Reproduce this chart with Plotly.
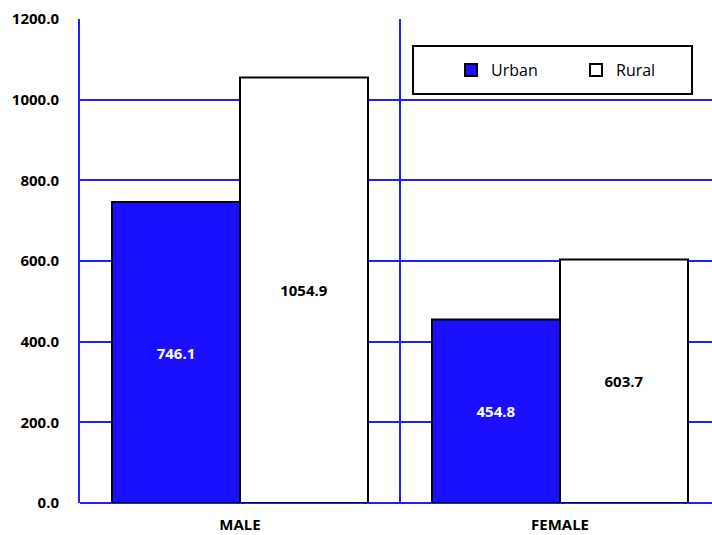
import plotly.graph_objects as go

categories = ["MALE", "FEMALE"]
urban = [746.1, 454.8]
rural = [1054.9, 603.7]
y_ticks = [0, 200, 400, 600, 800, 1000, 1200]

BLUE = "#1a10ff"
GRID = "#2020ff"
FONT = "Open Sans"

fig = go.Figure()
fig.add_trace(go.Bar(
    name="Urban", x=categories, y=urban,
    marker=dict(color=BLUE, line=dict(color="black", width=2)),
    texttemplate="%{y:.1f}", textposition="inside", insidetextanchor="middle",
    textfont=dict(family=FONT, size=15, color="white", weight="bold"),
    textangle=0,
))
fig.add_trace(go.Bar(
    name="Rural", x=categories, y=rural,
    marker=dict(color="white", line=dict(color="black", width=2)),
    texttemplate="%{y:.1f}", textposition="inside", insidetextanchor="middle",
    textfont=dict(family=FONT, size=15, color="black", weight="bold"),
    textangle=0,
))

L, T, B = 80, 19, 32
W, H = 712, 535
pw = W - L
ph = H - T - B

def px_x(p):
    return (p - L) / pw

def px_y(p):
    return (H - B - p) / ph

fig.add_shape(type="rect", xref="paper", yref="paper",
              x0=px_x(413), x1=px_x(692), y0=px_y(94), y1=px_y(46),
              line=dict(color="black", width=2), fillcolor="white", layer="above")

fig.update_layout(
    width=W, height=H,
    margin=dict(l=L, r=0, t=T, b=B, pad=0, autoexpand=False),
    paper_bgcolor="white", plot_bgcolor="white",
    barmode="group", bargap=0.2, bargroupgap=0,
    font=dict(family=FONT, color="black"),
    showlegend=True,
    legend=dict(
        orientation="h", x=px_x(451), xanchor="left",
        y=px_y(70), yanchor="middle",
        bgcolor="rgba(0,0,0,0)", borderwidth=0,
        font=dict(family=FONT, size=16, color="black"),
        entrywidth=80, entrywidthmode="pixels",
        itemwidth=30,
    ),
    xaxis=dict(
        type="category", categoryorder="array", categoryarray=categories,
        range=[-0.5, 1.475], tickson="boundaries",
        showgrid=True, gridcolor=GRID, gridwidth=2,
        showline=False, ticks="",
        tickfont=dict(family=FONT, size=15, color="black", weight="bold"),
        ticklabelstandoff=11,
    ),
    yaxis=dict(
        range=[0, 1200], tickvals=y_ticks, tickformat=".1f",
        showgrid=True, gridcolor=GRID, gridwidth=2,
        showline=True, linecolor=GRID, linewidth=2,
        zeroline=True, zerolinecolor=GRID, zerolinewidth=2,
        ticks="", ticklabelstandoff=16,
        tickfont=dict(family=FONT, size=15, color="black", weight="bold"),
    ),
)

fig.write_html("out.html")
